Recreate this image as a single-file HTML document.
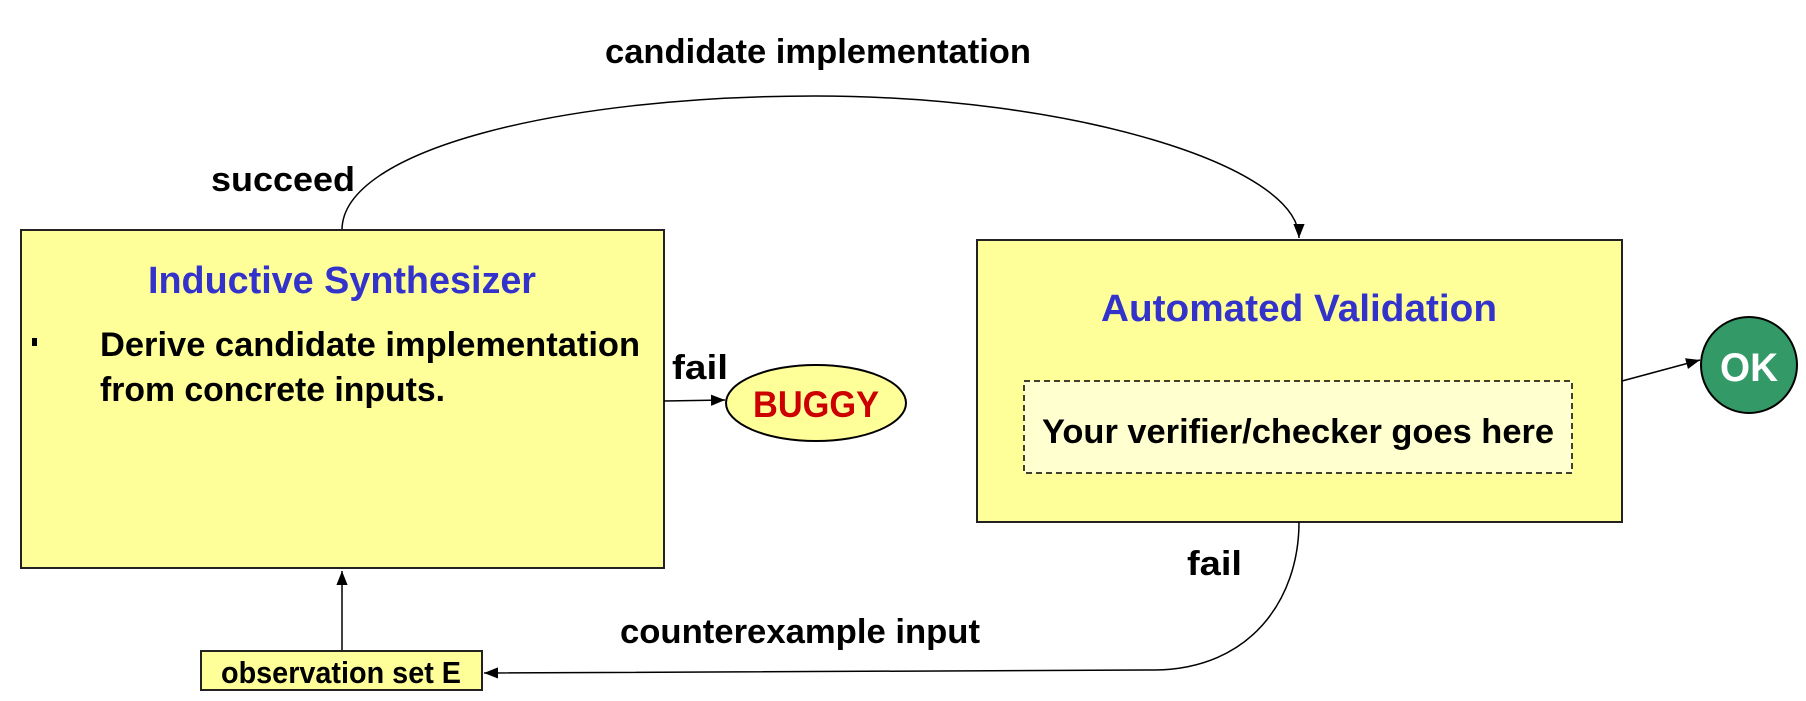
<!DOCTYPE html>
<html><head><meta charset="utf-8"><style>
html,body{margin:0;padding:0;background:#fff;}
svg{display:block;}
text{font-family:"Liberation Sans Narrow","Liberation Sans",sans-serif;font-weight:bold;}
</style></head><body>
<svg width="1806" height="701" viewBox="0 0 1806 701" xmlns="http://www.w3.org/2000/svg">
<defs>
<marker id="ah2" viewBox="0 0 10 10" refX="10" refY="5" markerWidth="14" markerHeight="14" markerUnits="userSpaceOnUse" orient="auto">
<path d="M0,1 L10,5 L0,9 z" fill="#000"/></marker>
</defs>
<!-- top curve -->
<path d="M342,230 C342,150 560,96 815,96 C1070,96 1299,165 1299,238" fill="none" stroke="#000" stroke-width="1.5" marker-end="url(#ah2)"/>
<text x="818" y="63" font-size="34" text-anchor="middle" textLength="426" lengthAdjust="spacingAndGlyphs">candidate implementation</text>
<text x="211" y="191" font-size="34" textLength="144" lengthAdjust="spacingAndGlyphs">succeed</text>
<!-- Inductive box -->
<rect x="21" y="230" width="643" height="338" fill="#ffff99" stroke="#222" stroke-width="2"/>
<text x="342" y="293" font-size="38" fill="#3333cc" text-anchor="middle" textLength="388" lengthAdjust="spacingAndGlyphs">Inductive Synthesizer</text>
<rect x="32" y="338" width="5" height="8" fill="#000"/>
<text x="100" y="356" font-size="34" textLength="540" lengthAdjust="spacingAndGlyphs">Derive candidate implementation</text>
<text x="100" y="401" font-size="34" textLength="345" lengthAdjust="spacingAndGlyphs">from concrete inputs.</text>
<!-- fail / BUGGY -->
<text x="672" y="379" font-size="34" textLength="56" lengthAdjust="spacingAndGlyphs">fail</text>
<path d="M664,401 L725,400" fill="none" stroke="#000" stroke-width="1.5" marker-end="url(#ah2)"/>
<ellipse cx="816" cy="403" rx="90" ry="38" fill="#ffff99" stroke="#000" stroke-width="2"/>
<text x="816" y="417" font-size="37" fill="#cc0000" text-anchor="middle" textLength="126" lengthAdjust="spacingAndGlyphs">BUGGY</text>
<!-- Validation box -->
<rect x="977" y="240" width="645" height="282" fill="#ffff99" stroke="#222" stroke-width="2"/>
<text x="1299" y="321" font-size="38" fill="#3333cc" text-anchor="middle" textLength="396" lengthAdjust="spacingAndGlyphs">Automated Validation</text>
<rect x="1024" y="381" width="548" height="92" fill="#ffffd0" stroke="#000" stroke-width="1.5" stroke-dasharray="6,4"/>
<text x="1298" y="443" font-size="34" text-anchor="middle" textLength="512" lengthAdjust="spacingAndGlyphs">Your verifier/checker  goes here</text>
<!-- OK -->
<path d="M1622,381 L1700,360" fill="none" stroke="#000" stroke-width="1.5" marker-end="url(#ah2)"/>
<circle cx="1749" cy="365" r="48" fill="#339966" stroke="#000" stroke-width="2"/>
<text x="1749" y="381" font-size="40" fill="#fff" text-anchor="middle" textLength="58" lengthAdjust="spacingAndGlyphs">OK</text>
<!-- fail bottom -->
<text x="1187" y="575" font-size="34" textLength="55" lengthAdjust="spacingAndGlyphs">fail</text>
<path d="M1299,522 C1299,600 1250,669 1155,670 L484,673" fill="none" stroke="#000" stroke-width="1.5" marker-end="url(#ah2)"/>
<text x="800" y="643" font-size="34" text-anchor="middle" textLength="360" lengthAdjust="spacingAndGlyphs">counterexample input</text>
<!-- observation -->
<path d="M342,651 L342,571" fill="none" stroke="#000" stroke-width="1.5" marker-end="url(#ah2)"/>
<rect x="201" y="651" width="281" height="39" fill="#ffff99" stroke="#222" stroke-width="2"/>
<text x="341" y="683" font-size="31" text-anchor="middle" textLength="240" lengthAdjust="spacingAndGlyphs">observation set E</text>
</svg>
</body></html>
